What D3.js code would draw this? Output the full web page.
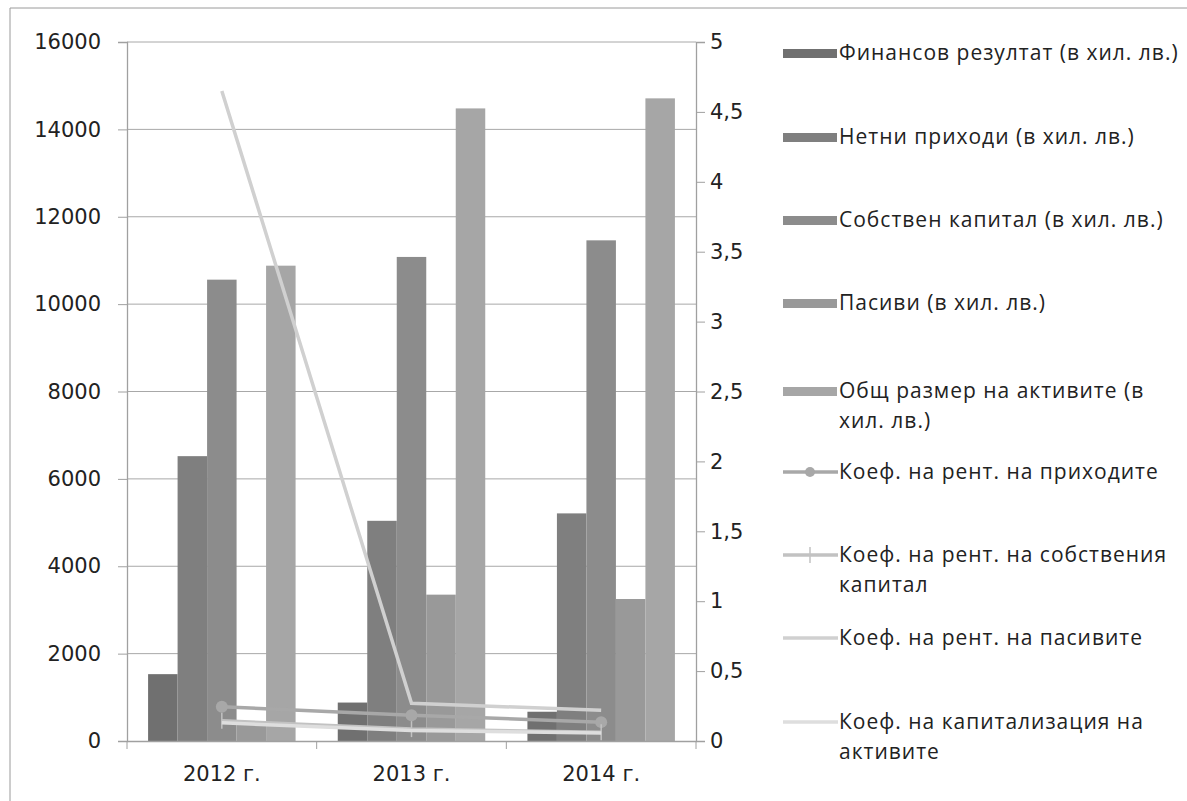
<!DOCTYPE html>
<html>
<head>
<meta charset="utf-8">
<script src="https://cdn.jsdelivr.net/npm/d3@7"></script>
<style>
  body { margin: 0; background: #fff; }
  text { font-family: "DejaVu Sans", sans-serif; fill: #222; }
  .leg text { font-family: "Open Sans", sans-serif; letter-spacing: 1px; }
</style>
</head>
<body>
<svg id="chart" width="1187" height="801"></svg>
<script>
// --- data ---
const years = ["2012 г.", "2013 г.", "2014 г."];
const barSeries = [
  "Финансов резултат (в хил. лв.)",
  "Нетни приходи (в хил. лв.)",
  "Собствен капитал (в хил. лв.)",
  "Пасиви (в хил. лв.)",
  "Общ размер на активите (в хил. лв.)"
];
const finResult   = [1530, 880, 670];
const netIncome   = [6520, 5040, 5210];
const equity      = [10560, 11080, 11460];
const liabilities = [420, 3350, 3250];
const totalAssets = [10880, 14480, 14710];
const barValues = [finResult, netIncome, equity, liabilities, totalAssets];

const lineSeries = [
  "Коеф. на рент. на приходите",
  "Коеф. на рент. на собствения капитал",
  "Коеф. на рент. на пасивите",
  "Коеф. на капитализация на активите"
];
const roiIncome  = [0.245, 0.185, 0.135];
const roiEquity  = [0.145, 0.085, 0.062];
const roiLiab    = [4.65, 0.27, 0.22];
const capAssets  = [0.13, 0.075, 0.058];
const lineValues = [roiIncome, roiEquity, roiLiab, capAssets];

const leftTicks = [0, 2000, 4000, 6000, 8000, 10000, 12000, 14000, 16000];
const rightTicks = [0, 0.5, 1, 1.5, 2, 2.5, 3, 3.5, 4, 4.5, 5];

// legend labels, wrapped as in the picture
const legendLines = [
  ["Финансов резултат (в хил. лв.)"],
  ["Нетни приходи (в хил. лв.)"],
  ["Собствен капитал (в хил. лв.)"],
  ["Пасиви (в хил. лв.)"],
  ["Общ размер на активите (в", "хил. лв.)"],
  ["Коеф. на рент. на приходите"],
  ["Коеф. на рент. на собствения", "капитал"],
  ["Коеф. на рент. на пасивите"],
  ["Коеф. на капитализация на", "активите"]
];

const barColors = ["#707070", "#7f7f7f", "#8c8c8c", "#999999", "#a6a6a6"];
const lineColors = ["#a8a8a8", "#c2c2c2", "#d0d0d0", "#dedede"];

const svg = d3.select("#chart");
const pLeft = 127, pRight = 696, pTop = 42, pBottom = 741;

// outer frame (clipped by the picture edge)
svg.append("path").attr("d", "M10,801 V8 H1187").attr("fill", "none").attr("stroke", "#9a9a9a");

const x0 = d3.scaleBand().domain(years).range([pLeft, pRight]);
const x1 = d3.scaleBand().domain(d3.range(barSeries.length)).range([0, x0.bandwidth()]).paddingOuter(0.715);
const yL = d3.scaleLinear().domain([0, 16000]).range([pBottom, pTop]);
const yR = d3.scaleLinear().domain([0, 5]).range([pBottom, pTop]);

// gridlines
svg.append("g").selectAll("line").data(leftTicks.slice(1)).join("line")
  .attr("x1", pLeft).attr("x2", pRight).attr("y1", d => yL(d)).attr("y2", d => yL(d))
  .attr("stroke", "#a8a8a8").attr("stroke-width", 1);

// left axis
const axL = svg.append("g").attr("transform", `translate(${pLeft},0)`)
  .call(d3.axisLeft(yL).tickValues(leftTicks).tickSize(9).tickPadding(17).tickFormat(d3.format("d")));
axL.selectAll("text").style("font-size", "21px").attr("fill", "#222");

// right axis
const axR = svg.append("g").attr("transform", `translate(${pRight},0)`)
  .call(d3.axisRight(yR).tickValues(rightTicks).tickSize(9).tickPadding(5)
    .tickFormat(d => String(d).replace(".", ",")));
axR.selectAll("text").style("font-size", "21px").attr("fill", "#222");

[axL, axR].forEach(a => {
  a.select(".domain").attr("stroke", "#a0a0a0").attr("stroke-width", 1.3);
  a.selectAll(".tick line").attr("stroke", "#a0a0a0");
});

// bars
const groups = svg.append("g").selectAll("g").data(years).join("g")
  .attr("transform", d => `translate(${x0(d)},0)`);
groups.selectAll("rect").data((d, yi) => barValues.map((s, si) => ({ si, v: s[yi] }))).join("rect")
  .attr("x", d => x1(d.si)).attr("width", x1.bandwidth())
  .attr("y", d => yL(d.v)).attr("height", d => yL(0) - yL(d.v))
  .attr("fill", d => barColors[d.si]);

// bottom axis
const axB = svg.append("g").attr("transform", `translate(0,${pBottom})`)
  .call(d3.axisBottom(x0).tickSize(0).tickPadding(25));
axB.select(".domain").attr("stroke", "#a0a0a0").attr("stroke-width", 1.3);
axB.selectAll("text").style("font-size", "21px").attr("fill", "#222");
svg.append("g").selectAll("line").data(years.concat(["end"])).join("line")
  .attr("x1", (d, i) => pLeft + i * x0.step()).attr("x2", (d, i) => pLeft + i * x0.step())
  .attr("y1", pBottom).attr("y2", pBottom + 8).attr("stroke", "#a0a0a0");

// lines
const cx = d => x0(d) + x0.bandwidth() / 2;
const lineGen = d3.line().x((d, i) => cx(years[i])).y(d => yR(d));
lineValues.forEach((vals, li) => {
  svg.append("path").datum(vals).attr("d", lineGen)
    .attr("fill", "none").attr("stroke", lineColors[li]).attr("stroke-width", 3.5);
  if (li === 0) {
    svg.append("g").selectAll("circle").data(vals).join("circle")
      .attr("cx", (d, i) => cx(years[i])).attr("cy", d => yR(d)).attr("r", 6)
      .attr("fill", lineColors[li]);
  }
  if (li === 1) {
    svg.append("g").selectAll("line").data(vals).join("line")
      .attr("x1", (d, i) => cx(years[i])).attr("x2", (d, i) => cx(years[i]))
      .attr("y1", d => yR(d) - 8).attr("y2", d => yR(d) + 8)
      .attr("stroke", lineColors[li]).attr("stroke-width", 1.5);
  }
});

// legend
const legY = [53, 137, 220, 303, 391, 472, 555, 638, 722];
const leg = svg.append("g").attr("class", "leg");
legendLines.forEach((lines, i) => {
  const g = leg.append("g").attr("transform", `translate(783,${legY[i]})`);
  if (i < 5) {
    g.append("rect").attr("x", 0).attr("y", -4).attr("width", 54).attr("height", 9).attr("fill", barColors[i]);
  } else {
    const li = i - 5;
    g.append("line").attr("x1", 0).attr("x2", 55).attr("y1", 0).attr("y2", 0)
      .attr("stroke", lineColors[li]).attr("stroke-width", 3.5);
    if (li === 0) g.append("circle").attr("cx", 27).attr("cy", 0).attr("r", 5).attr("fill", lineColors[li]);
    if (li === 1) g.append("line").attr("x1", 27).attr("x2", 27).attr("y1", -8).attr("y2", 8)
      .attr("stroke", lineColors[li]).attr("stroke-width", 1.5);
  }
  lines.forEach((t, k) => {
    g.append("text").attr("x", 56).attr("y", k * 30).attr("dy", "0.35em")
      .style("font-size", "21px").text(t);
  });
});
</script>
</body>
</html>
